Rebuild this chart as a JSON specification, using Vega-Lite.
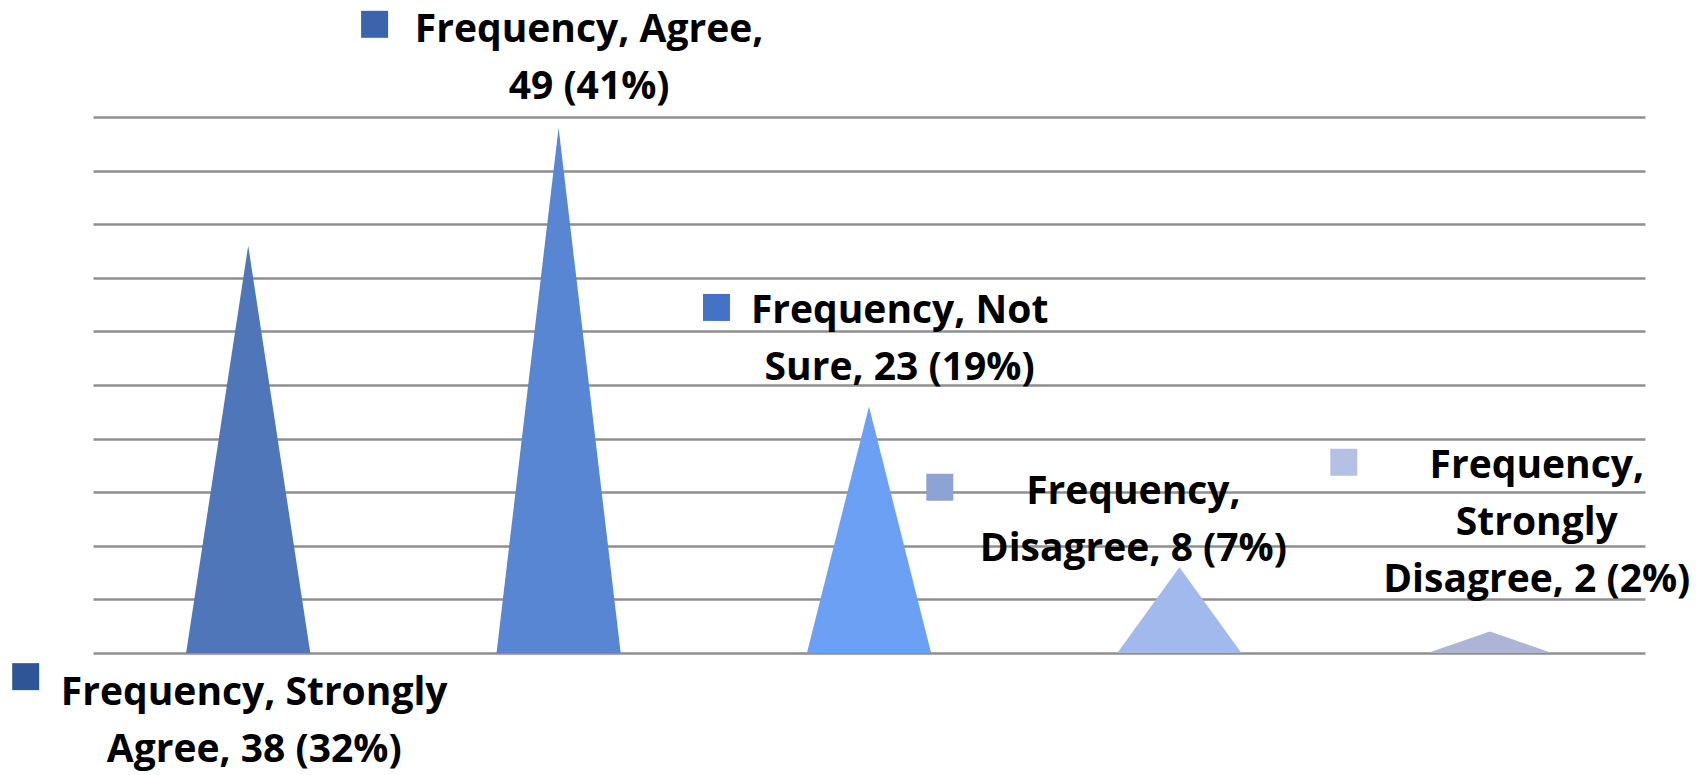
{
  "$schema": "https://vega.github.io/schema/vega-lite/v6.json",
  "width": 1552,
  "height": 536,
  "autosize": {"type": "none"},
  "padding": {"left": 93, "top": 117, "right": 59, "bottom": 122},
  "background": "white",
  "config": {"view": {"stroke": null}},
  "datasets": {
    "vertices": [
      {"category": "Strongly Agree", "vertex": "L", "point": "Strongly Agree L", "frequency": 0},
      {"category": "Strongly Agree", "vertex": "P", "point": "Strongly Agree P", "frequency": 38},
      {"category": "Strongly Agree", "vertex": "R", "point": "Strongly Agree R", "frequency": 0},
      {"category": "Agree", "vertex": "L", "point": "Agree L", "frequency": 0},
      {"category": "Agree", "vertex": "P", "point": "Agree P", "frequency": 49},
      {"category": "Agree", "vertex": "R", "point": "Agree R", "frequency": 0},
      {"category": "Not Sure", "vertex": "L", "point": "Not Sure L", "frequency": 0},
      {"category": "Not Sure", "vertex": "P", "point": "Not Sure P", "frequency": 23},
      {"category": "Not Sure", "vertex": "R", "point": "Not Sure R", "frequency": 0},
      {"category": "Disagree", "vertex": "L", "point": "Disagree L", "frequency": 0},
      {"category": "Disagree", "vertex": "P", "point": "Disagree P", "frequency": 8},
      {"category": "Disagree", "vertex": "R", "point": "Disagree R", "frequency": 0},
      {"category": "Strongly Disagree", "vertex": "L", "point": "Strongly Disagree L", "frequency": 0},
      {"category": "Strongly Disagree", "vertex": "P", "point": "Strongly Disagree P", "frequency": 2},
      {"category": "Strongly Disagree", "vertex": "R", "point": "Strongly Disagree R", "frequency": 0}
    ],
    "summary": [
      {"category": "Strongly Agree", "frequency": 38, "label": ["Frequency, Strongly", "Agree, 38 (32%)"]},
      {"category": "Agree", "frequency": 49, "label": ["Frequency, Agree,", "49 (41%)"]},
      {"category": "Not Sure", "frequency": 23, "label": ["Frequency, Not", "Sure, 23 (19%)"]},
      {"category": "Disagree", "frequency": 8, "label": ["Frequency,", "Disagree, 8 (7%)"]},
      {"category": "Strongly Disagree", "frequency": 2, "label": ["Frequency,", "Strongly", "Disagree, 2 (2%)"]}
    ]
  },
  "resolve": {"scale": {"x": "independent"}},
  "encoding": {
    "x": {
      "field": "category",
      "type": "nominal",
      "sort": null,
      "scale": {"type": "band", "domain": ["Strongly Agree", "Agree", "Not Sure", "Disagree", "Strongly Disagree"], "paddingInner": 0, "paddingOuter": 0},
      "axis": null
    },
    "y": {
      "field": "frequency",
      "type": "quantitative",
      "stack": null,
      "scale": {"domain": [0, 50], "nice": false, "zero": true},
      "axis": {"values": [0, 5, 10, 15, 20, 25, 30, 35, 40, 45, 50], "grid": true, "gridColor": "#8f8f8f", "gridWidth": 2.5, "domain": false, "ticks": false, "labels": false, "title": null}
    }
  },
  "layer": [
    {
      "data": {"name": "vertices"},
      "mark": {"type": "area", "opacity": 1, "interpolate": "linear"},
      "encoding": {
        "x": {
          "field": "point",
          "type": "nominal",
          "sort": null,
          "scale": {
            "type": "point",
            "padding": 0.5,
            "domain": [
              "Strongly Agree a", "Strongly Agree L", "Strongly Agree P", "Strongly Agree R", "Strongly Agree b",
              "Agree a", "Agree L", "Agree P", "Agree R", "Agree b",
              "Not Sure a", "Not Sure L", "Not Sure P", "Not Sure R", "Not Sure b",
              "Disagree a", "Disagree L", "Disagree P", "Disagree R", "Disagree b",
              "Strongly Disagree a", "Strongly Disagree L", "Strongly Disagree P", "Strongly Disagree R", "Strongly Disagree b"
            ]
          },
          "axis": null
        },
        "color": {
          "field": "category",
          "type": "nominal",
          "scale": {"domain": ["Strongly Agree", "Agree", "Not Sure", "Disagree", "Strongly Disagree"], "range": ["#4f76b8", "#5986d2", "#6ca0f4", "#a2b9ee", "#adb4d6"]},
          "legend": null
        }
      }
    },
    {
      "data": {"name": "summary"},
      "transform": [{"filter": "datum.category === 'Strongly Agree'"}],
      "layer": [
        {"mark": {"type": "point", "shape": "square", "filled": true, "opacity": 1, "size": 729, "color": "#2f5597", "xOffset": -222.5, "yOffset": 431}},
        {"mark": {"type": "text", "font": "Open Sans", "fontWeight": "bold", "fontSize": 39, "lineHeight": 57, "align": "center", "baseline": "alphabetic", "color": "black", "dx": 6, "dy": 459}, "encoding": {"text": {"field": "label"}}}
      ]
    },
    {
      "data": {"name": "summary"},
      "transform": [{"filter": "datum.category === 'Agree'"}],
      "layer": [
        {"mark": {"type": "point", "shape": "square", "filled": true, "opacity": 1, "size": 729, "color": "#3c64ad", "xOffset": -184, "yOffset": -103.4}},
        {"mark": {"type": "text", "font": "Open Sans", "fontWeight": "bold", "fontSize": 39, "lineHeight": 57, "align": "center", "baseline": "alphabetic", "color": "black", "dx": 30.5, "dy": -86}, "encoding": {"text": {"field": "label"}}}
      ]
    },
    {
      "data": {"name": "summary"},
      "transform": [{"filter": "datum.category === 'Not Sure'"}],
      "layer": [
        {"mark": {"type": "point", "shape": "square", "filled": true, "opacity": 1, "size": 729, "color": "#4472c4", "xOffset": -152.5, "yOffset": -99}},
        {"mark": {"type": "text", "font": "Open Sans", "fontWeight": "bold", "fontSize": 39, "lineHeight": 57, "align": "center", "baseline": "alphabetic", "color": "black", "dx": 30.6, "dy": -83.7}, "encoding": {"text": {"field": "label"}}}
      ]
    },
    {
      "data": {"name": "summary"},
      "transform": [{"filter": "datum.category === 'Disagree'"}],
      "layer": [
        {"mark": {"type": "point", "shape": "square", "filled": true, "opacity": 1, "size": 729, "color": "#8fa2d4", "xOffset": -239.6, "yOffset": -80}},
        {"mark": {"type": "text", "font": "Open Sans", "fontWeight": "bold", "fontSize": 39, "lineHeight": 57, "align": "center", "baseline": "alphabetic", "color": "black", "dx": -46, "dy": -63.2}, "encoding": {"text": {"field": "label"}}}
      ]
    },
    {
      "data": {"name": "summary"},
      "transform": [{"filter": "datum.category === 'Strongly Disagree'"}],
      "layer": [
        {"mark": {"type": "point", "shape": "square", "filled": true, "opacity": 1, "size": 729, "color": "#b4c1e4", "xOffset": -146, "yOffset": -169.3}},
        {"mark": {"type": "text", "font": "Open Sans", "fontWeight": "bold", "fontSize": 39, "lineHeight": 57, "align": "center", "baseline": "alphabetic", "color": "black", "dx": 47, "dy": -153.3}, "encoding": {"text": {"field": "label"}}}
      ]
    }
  ]
}
